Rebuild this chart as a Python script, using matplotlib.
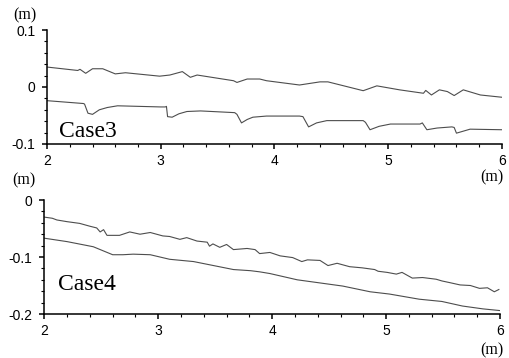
import matplotlib
matplotlib.use('Agg')
import matplotlib.pyplot as plt
from matplotlib.ticker import MultipleLocator

# Case3, upper and lower profile
c3_up_x = [2.00, 2.27, 2.29, 2.34, 2.40, 2.49, 2.60, 2.69, 2.99, 3.08, 3.19, 3.26, 3.32,
           3.64, 3.67, 3.76, 3.87, 3.93, 4.22, 4.40, 4.47, 4.78, 4.90, 5.10, 5.31, 5.33,
           5.38, 5.45, 5.52, 5.58, 5.66, 5.81, 6.00]
c3_up_y = [0.035, 0.029, 0.031, 0.024, 0.032, 0.032, 0.023, 0.025, 0.019, 0.021, 0.027, 0.017, 0.021,
           0.011, 0.008, 0.014, 0.014, 0.011, 0.0035, 0.009, 0.009, -0.0065, 0.002, -0.005, -0.011, -0.006,
           -0.014, -0.005, -0.008, -0.015, -0.005, -0.014, -0.018]

c3_lo_x = [2.00, 2.32, 2.33, 2.36, 2.40, 2.46, 2.53, 2.62, 3.00, 3.04, 3.05, 3.06, 3.10, 3.16, 3.23, 3.35,
           3.65, 3.67, 3.71, 3.76, 3.81, 3.93, 4.22, 4.25, 4.30, 4.37, 4.46, 4.78, 4.80, 4.84, 4.92, 5.02,
           5.28, 5.30, 5.34, 5.43, 5.56, 5.58, 5.60, 5.72, 6.00]
c3_lo_y = [-0.024, -0.029, -0.030, -0.046, -0.048, -0.040, -0.036, -0.033, -0.035, -0.035, -0.034, -0.052, -0.053, -0.047, -0.043, -0.042,
           -0.045, -0.048, -0.063, -0.057, -0.053, -0.051, -0.051, -0.052, -0.070, -0.063, -0.059, -0.059, -0.062, -0.075, -0.069, -0.065,
           -0.065, -0.063, -0.075, -0.072, -0.070, -0.071, -0.081, -0.074, -0.075]

# Case4, upper and lower profile
c4_up_x = [2.00, 2.07, 2.11, 2.20, 2.31, 2.40, 2.46, 2.49, 2.52, 2.55, 2.66, 2.75, 2.84, 2.93,
           3.04, 3.10, 3.19, 3.25, 3.34, 3.43, 3.45, 3.48, 3.54, 3.60, 3.66, 3.78, 3.85, 3.89,
           3.98, 4.07, 4.18, 4.26, 4.31, 4.42, 4.49, 4.57, 4.68, 4.79, 4.90, 4.93, 5.01, 5.09,
           5.14, 5.23, 5.32, 5.44, 5.49, 5.56, 5.65, 5.74, 5.82, 5.89, 5.95, 5.99]
c4_up_y = [-0.030, -0.032, -0.035, -0.038, -0.041, -0.046, -0.049, -0.056, -0.052, -0.062, -0.062, -0.056, -0.060, -0.057,
           -0.063, -0.064, -0.069, -0.066, -0.072, -0.074, -0.081, -0.077, -0.083, -0.078, -0.087, -0.085, -0.087, -0.094,
           -0.092, -0.098, -0.101, -0.108, -0.105, -0.106, -0.115, -0.111, -0.117, -0.119, -0.122, -0.125, -0.127, -0.130,
           -0.127, -0.137, -0.136, -0.139, -0.142, -0.145, -0.149, -0.150, -0.155, -0.154, -0.161, -0.157]

c4_lo_x = [2.00, 2.20, 2.43, 2.60, 2.69, 2.78, 2.93, 3.10, 3.31, 3.66, 3.81, 3.89, 3.98, 4.22,
           4.62, 4.86, 5.03, 5.29, 5.49, 5.67, 5.85, 6.00]
c4_lo_y = [-0.067, -0.073, -0.082, -0.096, -0.096, -0.095, -0.096, -0.104, -0.108, -0.122, -0.124, -0.126, -0.129, -0.140,
           -0.151, -0.161, -0.165, -0.174, -0.178, -0.186, -0.191, -0.194]

serif = 'Liberation Serif'
sans = 'Liberation Sans'
line_col = '#4d4d4d'


def style_axis(ax, ylim, ymajor):
    ax.set_xlim(2, 6)
    ax.set_ylim(*ylim)
    ax.xaxis.set_major_locator(MultipleLocator(1))
    ax.xaxis.set_minor_locator(MultipleLocator(0.2))
    ax.yaxis.set_major_locator(MultipleLocator(ymajor))
    ax.yaxis.set_minor_locator(MultipleLocator(ymajor / 5))
    ax.spines['top'].set_visible(False)
    ax.spines['right'].set_visible(False)
    for s in ('left', 'bottom'):
        ax.spines[s].set_linewidth(1.1)
    ax.tick_params(which='major', direction='out', length=3.5, width=1.1,
                   labelsize=10, pad=4)
    ax.tick_params(which='minor', direction='out', length=2.2, width=0.8)
    ax.tick_params(axis='y', which='major', pad=5)
    ax.yaxis.set_major_formatter(plt.FuncFormatter(lambda v, p: f"{v:g}"))
    for t in ax.get_xticklabels() + ax.get_yticklabels():
        t.set_fontname(sans)


fig = plt.figure(figsize=(5.1, 3.58), dpi=100)
fig.patch.set_facecolor('white')

ax1 = fig.add_axes([0.0922, 0.5978, 0.892, 0.3184])
ax1.plot(c3_up_x, c3_up_y, color=line_col, linewidth=0.8)
ax1.plot(c3_lo_x, c3_lo_y, color=line_col, linewidth=0.8)
style_axis(ax1, (-0.1, 0.1), 0.1)
ax1.text(0.027, 0.06, 'Case3', transform=ax1.transAxes, fontsize=17,
         fontname=serif, ha='left', va='baseline')

ax2 = fig.add_axes([0.0869, 0.1229, 0.8935, 0.3184])
ax2.plot(c4_up_x, c4_up_y, color=line_col, linewidth=0.8)
ax2.plot(c4_lo_x, c4_lo_y, color=line_col, linewidth=0.8)
style_axis(ax2, (-0.2, 0), 0.1)
ax2.text(0.03, 0.21, 'Case4', transform=ax2.transAxes, fontsize=17,
         fontname=serif, ha='left', va='baseline')

# unit labels
for (x, y) in [(25, 15), (492, 177), (24, 180), (492, 350)]:
    fig.text(x / 510, 1 - y / 358, '(m)', fontsize=11.5, fontname=serif,
             ha='center', va='center')

fig.savefig('out.png', dpi=100, facecolor=fig.get_facecolor())
plt.close(fig)
